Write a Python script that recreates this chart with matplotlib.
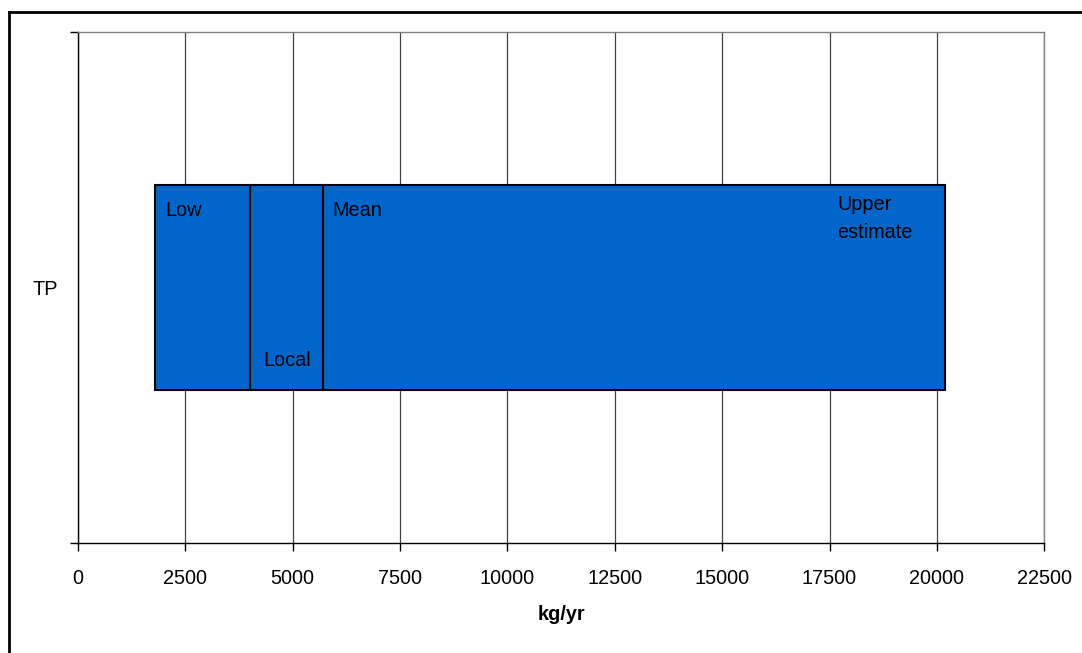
import matplotlib
matplotlib.use("Agg")
import matplotlib.pyplot as plt
from matplotlib.lines import Line2D

plt.rcParams['font.family'] = ['Liberation Sans', 'DejaVu Sans']

# Load estimates for total phosphorus (kg/yr)
category = "TP"
low = 1800
local = 4000
mean = 5700
upper = 20200
segment_labels = ["Low", "Local", "Mean", "Upper\nestimate"]
x_ticks = [0, 2500, 5000, 7500, 10000, 12500, 15000, 17500, 20000, 22500]
x_label = "kg/yr"

fs = 14.3

fig = plt.figure(figsize=(10.82, 6.53), dpi=100)
ax = fig.add_axes([77.7 / 1082, 1 - 543 / 653, (1044.3 - 77.7) / 1082, (543 - 32) / 653])

blue = "#0066CC"
edges = [low, local, mean, upper]
bar_h = 0.4
for left, right in zip(edges[:-1], edges[1:]):
    ax.barh(0, right - left, left=left, height=bar_h, color=blue,
            edgecolor="black", linewidth=1.5, zorder=3)

# Segment annotations
ax.text(low + 230, 0.15, segment_labels[0], fontsize=fs, va="center", ha="left", zorder=4)
ax.text(local + 330, -0.143, segment_labels[1], fontsize=fs, va="center", ha="left", zorder=4)
ax.text(mean + 230, 0.15, segment_labels[2], fontsize=fs, va="center", ha="left", zorder=4)
ax.text(upper - 2520, 0.135, segment_labels[3], fontsize=fs, va="center", ha="left",
        linespacing=1.6, zorder=4)

ax.set_xlim(x_ticks[0], x_ticks[-1])
ax.set_ylim(-0.5, 0.5)
ax.set_xticks(x_ticks)
ax.set_xticklabels([str(t) for t in x_ticks], fontsize=fs)
ax.tick_params(axis="x", direction="out", length=6, width=1, color="black", pad=13)

ax.set_yticks([0])
ax.set_yticklabels([category], fontsize=fs)
ax.tick_params(axis="y", which="major", length=0, pad=14)
ax.set_yticks([-0.5, 0.5], minor=True)
ax.tick_params(axis="y", which="minor", direction="out", length=6, width=1, color="black")

ax.xaxis.grid(True, color="#404040", linewidth=0.9, zorder=0)
ax.set_axisbelow(True)

for side in ["top", "right"]:
    ax.spines[side].set_color("#808080")
    ax.spines[side].set_linewidth(1)
for side in ["left", "bottom"]:
    ax.spines[side].set_color("black")
    ax.spines[side].set_linewidth(1)

ax.set_xlabel(x_label, fontsize=fs, fontweight="bold", labelpad=12)

# Chart frame
fig.add_artist(Line2D([9 / 1082, 9 / 1082], [0, 1 - 12 / 653], transform=fig.transFigure,
                      color="black", linewidth=2))
fig.add_artist(Line2D([9 / 1082, 1], [1 - 12 / 653, 1 - 12 / 653], transform=fig.transFigure,
                      color="black", linewidth=2))

fig.savefig("out.png", dpi=100)
